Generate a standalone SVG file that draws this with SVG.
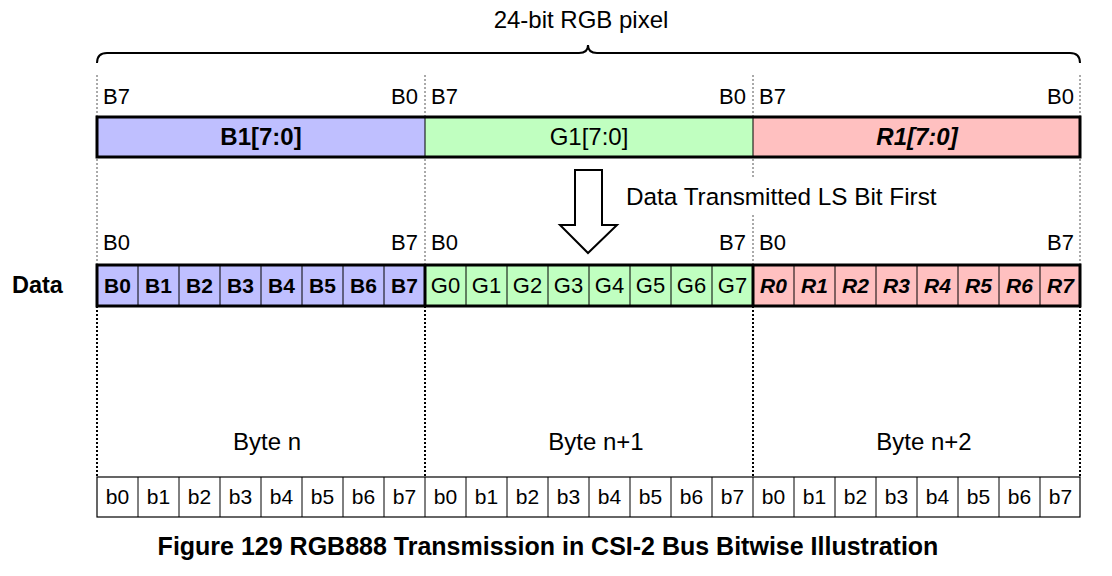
<svg xmlns="http://www.w3.org/2000/svg" width="1112" height="576" viewBox="0 0 1112 576">
<defs>
<style>
text{font-family:"Liberation Sans",Arial,sans-serif;fill:#000;}
.t{font-size:24px;}
.tl{font-size:22px;}
.cr{font-size:22px;}
.cb{font-size:21px;}
.c{text-anchor:middle;}
.e{text-anchor:end;}
.b{font-weight:bold;}
.bi{font-weight:bold;font-style:italic;}
.blue{fill:#BFBFFF;}
.green{fill:#C0FFC0;}
.pink{fill:#FFC0C0;}
.thin{stroke:#000;stroke-width:1;fill:none;}
.thick{stroke:#000;stroke-width:3;fill:none;}
.gdot{stroke:#555;stroke-width:1;stroke-dasharray:2,2;fill:none;}
.kdot{stroke:#000;stroke-width:2;stroke-dasharray:2,2;fill:none;}
</style>
</defs>
<rect x="0" y="0" width="1112" height="576" fill="#fff"/>

<g id="connectors">
<path d="M97,63 Q97,53 107,53 L579,53 Q588,53 588,45 Q588,53 597,53 L1070,53 Q1080,53 1080,63" fill="none" stroke="#000" stroke-width="2"/>
<path class="gdot" d="M97,75 V265 M425,75 V265 M753,75 V265 M1080,75 V265"/>
<path class="kdot" d="M97,306 V477 M425,306 V477 M753,306 V477 M1080,306 V477"/>
</g>

<g id="brace-label"><text class="t c" x="581" y="28">24-bit RGB pixel</text></g>

<g id="top-labels">
<text class="tl" x="103" y="104">B7</text>
<text class="tl e" x="418" y="104">B0</text>
<text class="tl" x="431" y="104">B7</text>
<text class="tl e" x="746" y="104">B0</text>
<text class="tl" x="759" y="104">B7</text>
<text class="tl e" x="1074" y="104">B0</text>
</g>

<g id="pixel-bar">
<rect class="blue" x="97" y="117" width="328" height="40"/>
<rect class="green" x="425" y="117" width="328" height="40"/>
<rect class="pink" x="753" y="117" width="327" height="40"/>
<path class="thin" d="M425,117 V157 M753,117 V157"/>
<rect class="thick" x="97" y="117" width="983" height="40"/>
<text class="t c b" x="261" y="145">B1[7:0]</text>
<text class="t c" x="589" y="145">G1[7:0]</text>
<text class="t c bi" x="917" y="145">R1[7:0]</text>
</g>

<g id="transmit-arrow">
<rect x="622" y="178" width="320" height="36" fill="#fff"/>
<path d="M575,170 H602 V225 H617 L588,253 L560,225 H575 Z" fill="#fff" stroke="#000" stroke-width="2" stroke-linejoin="miter"/>
<text class="t" x="626" y="205" style="font-size:24.3px">Data Transmitted LS Bit First</text>
</g>

<g id="mid-labels">
<text class="tl" x="103" y="250">B0</text>
<text class="tl e" x="418" y="250">B7</text>
<text class="tl" x="431" y="250">B0</text>
<text class="tl e" x="746" y="250">B7</text>
<text class="tl" x="759" y="250">B0</text>
<text class="tl e" x="1074" y="250">B7</text>
</g>

<g id="data-label"><text class="b" x="12" y="293" style="font-size:23.5px">Data</text></g>

<g id="data-row">
<rect class="blue" x="97" y="265" width="328" height="41"/>
<rect class="green" x="425" y="265" width="328" height="41"/>
<rect class="pink" x="753" y="265" width="327" height="41"/>
<path class="thin" d="M138,265 V306 M179,265 V306 M220,265 V306 M261,265 V306 M302,265 V306 M343,265 V306 M384,265 V306 M466,265 V306 M507,265 V306 M548,265 V306 M589,265 V306 M630,265 V306 M671,265 V306 M712,265 V306 M794,265 V306 M835,265 V306 M876,265 V306 M917,265 V306 M958,265 V306 M999,265 V306 M1040,265 V306"/>
<path class="thick" d="M425,265 V306 M753,265 V306"/>
<rect class="thick" x="97" y="265" width="983" height="41"/>
<g class="cb c b">
<text x="117.5" y="293">B0</text><text x="158.5" y="293">B1</text><text x="199.5" y="293">B2</text><text x="240.5" y="293">B3</text><text x="281.5" y="293">B4</text><text x="322.5" y="293">B5</text><text x="363.5" y="293">B6</text><text x="404.5" y="293">B7</text>
</g>
<g class="cr c">
<text x="445.5" y="293">G0</text><text x="486.5" y="293">G1</text><text x="527.5" y="293">G2</text><text x="568.5" y="293">G3</text><text x="609.5" y="293">G4</text><text x="650.5" y="293">G5</text><text x="691.5" y="293">G6</text><text x="732.5" y="293">G7</text>
</g>
<g class="cb c bi">
<text x="773.5" y="293">R0</text><text x="814.5" y="293">R1</text><text x="855.5" y="293">R2</text><text x="896.5" y="293">R3</text><text x="937.5" y="293">R4</text><text x="978.5" y="293">R5</text><text x="1019.5" y="293">R6</text><text x="1060.5" y="293">R7</text>
</g>
</g>

<g id="byte-labels">
<text class="t c" x="267" y="450">Byte n</text>
<text class="t c" x="596" y="450">Byte n+1</text>
<text class="t c" x="924" y="450">Byte n+2</text>
</g>

<g id="bit-row">
<rect x="97" y="477" width="983" height="40" fill="#fff" stroke="#000" stroke-width="1.2"/>
<path class="thin" d="M138,477 V517 M179,477 V517 M220,477 V517 M261,477 V517 M302,477 V517 M343,477 V517 M384,477 V517 M425,477 V517 M466,477 V517 M507,477 V517 M548,477 V517 M589,477 V517 M630,477 V517 M671,477 V517 M712,477 V517 M753,477 V517 M794,477 V517 M835,477 V517 M876,477 V517 M917,477 V517 M958,477 V517 M999,477 V517 M1040,477 V517"/>
<g class="c" style="font-size:21px">
<text x="117.5" y="504">b0</text><text x="158.5" y="504">b1</text><text x="199.5" y="504">b2</text><text x="240.5" y="504">b3</text><text x="281.5" y="504">b4</text><text x="322.5" y="504">b5</text><text x="363.5" y="504">b6</text><text x="404.5" y="504">b7</text>
<text x="445.5" y="504">b0</text><text x="486.5" y="504">b1</text><text x="527.5" y="504">b2</text><text x="568.5" y="504">b3</text><text x="609.5" y="504">b4</text><text x="650.5" y="504">b5</text><text x="691.5" y="504">b6</text><text x="732.5" y="504">b7</text>
<text x="773.5" y="504">b0</text><text x="814.5" y="504">b1</text><text x="855.5" y="504">b2</text><text x="896.5" y="504">b3</text><text x="937.5" y="504">b4</text><text x="978.5" y="504">b5</text><text x="1019.5" y="504">b6</text><text x="1060.5" y="504">b7</text>
</g>
</g>

<g id="caption"><text class="c b" x="548" y="555" style="font-size:25px">Figure 129 RGB888 Transmission in CSI-2 Bus Bitwise Illustration</text></g>
</svg>
